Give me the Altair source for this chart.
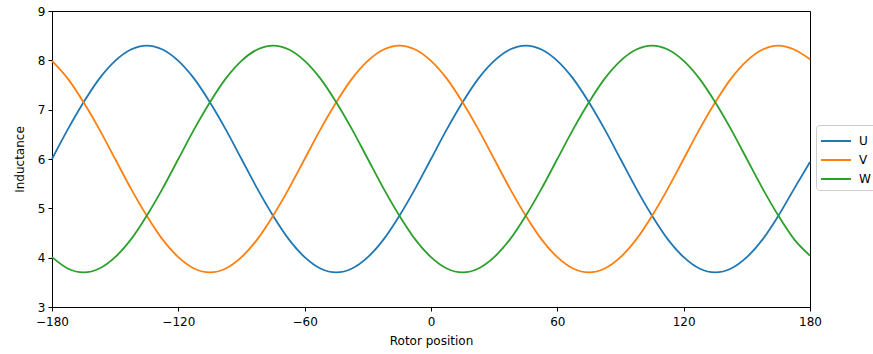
import altair as alt
import pandas as pd

# Rotor position (degrees)
theta = [-180, -172.5, -165, -157.5, -150, -142.5, -135, -127.5, -120, -112.5,
         -105, -97.5, -90, -82.5, -75, -67.5, -60, -52.5, -45, -37.5,
         -30, -22.5, -15, -7.5, 0, 7.5, 15, 22.5, 30, 37.5,
         45, 52.5, 60, 67.5, 75, 82.5, 90, 97.5, 105, 112.5,
         120, 127.5, 135, 142.5, 150, 157.5, 165, 172.5, 180]

U = [6.00, 6.60, 7.15, 7.63, 7.99, 8.22, 8.30, 8.22, 7.99, 7.63,
     7.15, 6.60, 6.00, 5.40, 4.85, 4.37, 4.01, 3.78, 3.70, 3.78,
     4.01, 4.37, 4.85, 5.40, 6.00, 6.60, 7.15, 7.63, 7.99, 8.22,
     8.30, 8.22, 7.99, 7.63, 7.15, 6.60, 6.00, 5.40, 4.85, 4.37,
     4.01, 3.78, 3.70, 3.78, 4.01, 4.37, 4.85, 5.40, 5.94]

V = [7.99, 7.63, 7.15, 6.60, 6.00, 5.40, 4.85, 4.37, 4.01, 3.78,
     3.70, 3.78, 4.01, 4.37, 4.85, 5.40, 6.00, 6.60, 7.15, 7.63,
     7.99, 8.22, 8.30, 8.22, 7.99, 7.63, 7.15, 6.60, 6.00, 5.40,
     4.85, 4.37, 4.01, 3.78, 3.70, 3.78, 4.01, 4.37, 4.85, 5.40,
     6.00, 6.60, 7.15, 7.63, 7.99, 8.22, 8.30, 8.22, 8.02]

W = [4.01, 3.78, 3.70, 3.78, 4.01, 4.37, 4.85, 5.40, 6.00, 6.60,
     7.15, 7.63, 7.99, 8.22, 8.30, 8.22, 7.99, 7.63, 7.15, 6.60,
     6.00, 5.40, 4.85, 4.37, 4.01, 3.78, 3.70, 3.78, 4.01, 4.37,
     4.85, 5.40, 6.00, 6.60, 7.15, 7.63, 7.99, 8.22, 8.30, 8.22,
     7.99, 7.63, 7.15, 6.60, 6.00, 5.40, 4.85, 4.37, 4.04]

phases = ["U", "V", "W"]
colors = ["#1f77b4", "#ff7f0e", "#2ca02c"]
x_ticks = [-180, -120, -60, 0, 60, 120, 180]
y_ticks = [3, 4, 5, 6, 7, 8, 9]

rows = []
for name, vals in zip(phases, [U, V, W]):
    for t, v in zip(theta, vals):
        rows.append({"theta": t, "value": v, "phase": name})
df = pd.DataFrame(rows)

FONT = "DejaVu Sans"

chart = alt.Chart(df).mark_line(strokeWidth=1.8, interpolate="monotone").encode(
    x=alt.X("theta:Q",
            scale=alt.Scale(domain=[-180, 180], nice=False, zero=False),
            axis=alt.Axis(title="Rotor position", values=x_ticks,
                          labelFlush=False, labelPadding=5,
                          labelExpr="replace(datum.label, '-', '−')")),
    y=alt.Y("value:Q",
            scale=alt.Scale(domain=[3, 9], nice=False, zero=False),
            axis=alt.Axis(title="Inductance", values=y_ticks, labelFlush=False)),
    color=alt.Color("phase:N",
                    scale=alt.Scale(domain=phases, range=colors),
                    legend=alt.Legend(title=None, orient="none",
                                      legendX=764, legendY=114,
                                      symbolType="M-1.5,0L1.5,0",
                                      symbolSize=400,
                                      symbolOffset=4,
                                      symbolStrokeWidth=2,
                                      labelFontSize=12,
                                      labelFont=FONT,
                                      labelColor="#000",
                                      labelOffset=12,
                                      rowPadding=2,
                                      padding=5,
                                      fillColor="white",
                                      strokeColor="#cccccc",
                                      cornerRadius=3)),
).properties(
    width=758,
    height=296,
    autosize=alt.AutoSizeParams(type="none"),
    padding={"left": 52, "top": 11, "right": 63, "bottom": 47},
).configure_view(
    stroke="#000", strokeWidth=1
).configure_axis(
    grid=False,
    domainColor="#000",
    tickColor="#000",
    tickSize=4,
    labelPadding=3,
    labelFont=FONT,
    labelFontSize=12,
    labelColor="#000",
    titleFont=FONT,
    titleFontSize=12,
    titleFontWeight="normal",
    titleColor="#000",
).configure_axisX(
    titlePadding=8
).configure_axisY(
    titlePadding=11
)

chart.save("out.html", embed_options={"renderer": "svg", "actions": False})
